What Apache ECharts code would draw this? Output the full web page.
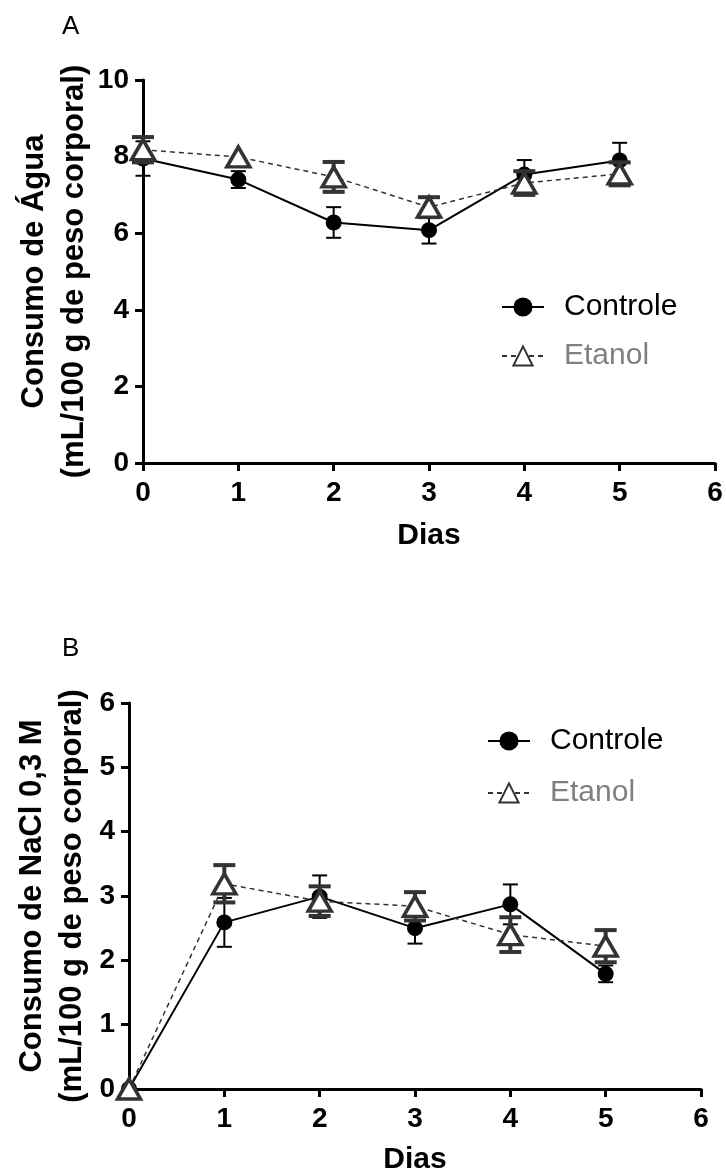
<!DOCTYPE html>
<html>
<head>
<meta charset="utf-8">
<script src="https://cdn.jsdelivr.net/npm/echarts@6/dist/echarts.min.js"></script>
<style>
  html, body { margin: 0; background: #fff; }
  #chart { width: 726px; height: 1174px; }
</style>
</head>
<body>
<div id="chart"></div>
<script>
// dias de registro
const dias = [0, 1, 2, 3, 4, 5]

// A - consumo de agua (media e EPM)
const aguaControle = [7.95, 7.40, 6.28, 6.08, 7.53, 7.90]
const aguaControleEpm = [0.45, 0.22, 0.40, 0.35, 0.38, 0.46]
const aguaEtanol = [8.18, 7.99, 7.47, 6.68, 7.31, 7.55]
const aguaEtanolEpm = [0.33, 0.08, 0.39, 0.26, 0.31, 0.30]

// B - consumo de NaCl 0,3 M (media e EPM)
const naclControle = [0, 2.59, 2.99, 2.50, 2.87, 1.79]
const naclControleEpm = [0, 0.38, 0.33, 0.24, 0.31, 0.13]
const naclEtanol = [0, 3.19, 2.92, 2.84, 2.40, 2.22]
const naclEtanolEpm = [0, 0.29, 0.23, 0.22, 0.27, 0.25]

const font = '"Liberation Sans", Arial, sans-serif'
const cinza = '#333333'

function pontos(valores) {
  return dias.map((d, i) => [d, valores[i]])
}

function barras(valores, epm) {
  return dias.map((d, i) => [d, valores[i], epm[i]])
}

// barras de erro desenhadas com as coordenadas do proprio eixo
function barraDeErro(cor, espessura, largura) {
  return function (params, api) {
    const x = api.value(0)
    const y = api.value(1)
    const e = api.value(2)
    const alto = api.coord([x, y + e])
    const baixo = api.coord([x, y - e])
    if (baixo[1] - alto[1] < 10) return null
    const m = largura / 2
    const estilo = () => ({ stroke: cor, lineWidth: espessura, fill: null })
    return {
      type: 'group',
      children: [
        { type: 'line', shape: { x1: alto[0], y1: alto[1], x2: baixo[0], y2: baixo[1] }, style: estilo() },
        { type: 'line', shape: { x1: alto[0] - m, y1: alto[1], x2: alto[0] + m, y2: alto[1] }, style: estilo() },
        { type: 'line', shape: { x1: baixo[0] - m, y1: baixo[1], x2: baixo[0] + m, y2: baixo[1] }, style: estilo() }
      ]
    }
  }
}

function eixoX(grid, gap) {
  return {
    type: 'value',
    gridIndex: grid,
    min: 0,
    max: 6,
    interval: 1,
    name: 'Dias',
    nameLocation: 'middle',
    nameGap: gap,
    nameMoveOverlap: false,
    nameTextStyle: { fontFamily: font, fontSize: 30, fontWeight: 'bold', color: '#000' },
    axisLine: { onZero: false, lineStyle: { color: '#000', width: 3 } },
    axisTick: { length: 8, lineStyle: { color: '#000', width: 3 } },
    axisLabel: { margin: 16, fontFamily: font, fontSize: 28, fontWeight: 'bold', color: '#000' },
    splitLine: { show: false }
  }
}

function eixoY(grid, nome, max, interval, gap) {
  return {
    type: 'value',
    gridIndex: grid,
    min: 0,
    max: max,
    interval: interval,
    name: nome,
    nameLocation: 'middle',
    nameRotate: 90,
    nameGap: gap,
    nameMoveOverlap: false,
    nameTextStyle: { fontFamily: font, fontSize: 31, fontWeight: 'bold', color: '#000', lineHeight: 40 },
    axisLine: { onZero: false, lineStyle: { color: '#000', width: 3 } },
    axisTick: { length: 8, lineStyle: { color: '#000', width: 3 } },
    axisLabel: { margin: 14, fontFamily: font, fontSize: 28, fontWeight: 'bold', color: '#000' },
    splitLine: { show: false }
  }
}

function linhaControle(idx, valores) {
  return {
    name: 'Controle',
    type: 'line',
    xAxisIndex: idx,
    yAxisIndex: idx,
    data: pontos(valores),
    symbol: 'circle',
    symbolSize: 16,
    itemStyle: { color: '#000' },
    lineStyle: { color: '#000', width: 2 },
    z: 3
  }
}

function linhaEtanol(idx, valores) {
  return {
    name: 'Etanol',
    type: 'line',
    xAxisIndex: idx,
    yAxisIndex: idx,
    data: pontos(valores),
    symbol: 'triangle',
    symbolSize: [23, 20],
    itemStyle: { color: '#fff', borderColor: cinza, borderWidth: 3.5 },
    lineStyle: { color: cinza, width: 1.5, type: [5, 4] },
    z: 5
  }
}

function errosControle(idx, valores, epm) {
  return {
    name: 'Controle EPM',
    type: 'custom',
    xAxisIndex: idx,
    yAxisIndex: idx,
    data: barras(valores, epm),
    encode: { x: 0, y: 1 },
    renderItem: barraDeErro('#000', 2, 15),
    z: 2
  }
}

function errosEtanol(idx, valores, epm) {
  return {
    name: 'Etanol EPM',
    type: 'custom',
    xAxisIndex: idx,
    yAxisIndex: idx,
    data: barras(valores, epm),
    encode: { x: 0, y: 1 },
    renderItem: barraDeErro(cinza, 4, 22),
    z: 4
  }
}

function legenda(idx, left, top, gap) {
  return {
    legendIndex: idx,
    orient: 'vertical',
    left: left,
    top: top,
    itemWidth: 42,
    itemHeight: 24,
    itemGap: gap,
    data: [
      { name: 'Controle', textStyle: { color: '#000' } },
      { name: 'Etanol', textStyle: { color: '#808080' } }
    ],
    textStyle: { fontFamily: font, fontSize: 30, padding: [0, 0, 0, 15] }
  }
}

const chart = echarts.init(document.getElementById('chart'))
chart.setOption({
  animation: false,
  backgroundColor: '#fff',
  title: [
    { text: 'A', left: 57, top: 9, textStyle: { fontFamily: font, fontSize: 26, fontWeight: 'normal', color: '#000' } },
    { text: 'B', left: 57, top: 631, textStyle: { fontFamily: font, fontSize: 26, fontWeight: 'normal', color: '#000' } }
  ],
  legend: [legenda(0, 496, 287, 19), legenda(1, 482, 721, 22)],
  grid: [
    { left: 143, top: 80, width: 572, height: 383, outerBoundsMode: 'none' },
    { left: 129, top: 703, width: 572, height: 386, outerBoundsMode: 'none' }
  ],
  xAxis: [eixoX(0, 58), eixoX(1, 56)],
  yAxis: [
    eixoY(0, 'Consumo de Água\n(mL/100 g de peso corporal)', 10, 2, 49),
    eixoY(1, 'Consumo de NaCl 0,3 M\n(mL/100 g de peso corporal)', 6, 1, 37)
  ],
  series: [
    errosControle(0, aguaControle, aguaControleEpm),
    linhaControle(0, aguaControle),
    errosEtanol(0, aguaEtanol, aguaEtanolEpm),
    linhaEtanol(0, aguaEtanol),
    errosControle(1, naclControle, naclControleEpm),
    linhaControle(1, naclControle),
    errosEtanol(1, naclEtanol, naclEtanolEpm),
    linhaEtanol(1, naclEtanol)
  ]
})
</script>
</body>
</html>
